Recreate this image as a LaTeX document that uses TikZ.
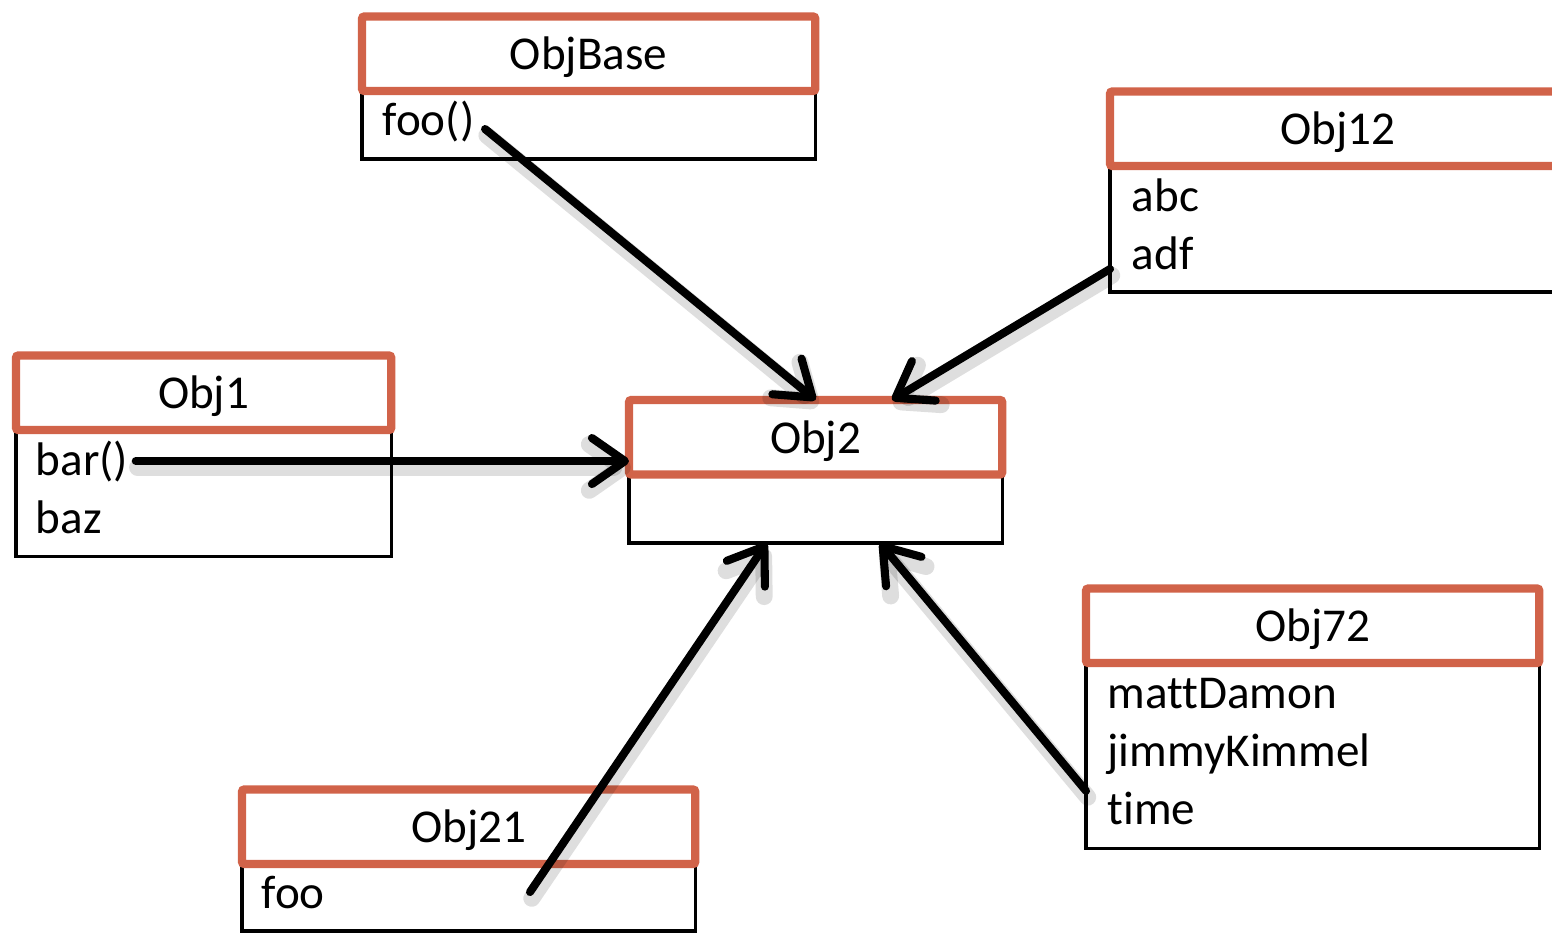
\documentclass[tikz,border=0pt]{standalone}
\usepackage{fontspec}
\setmainfont{Carlito}[RawFeature=-liga, RawFeature=-clig, RawFeature=-calt]
\usetikzlibrary{arrows.meta, positioning, calc}
\definecolor{objred}{RGB}{209,99,73}

\begin{document}
\begin{tikzpicture}[
    x=0.01cm, y=-0.01cm,
    objbody/.style={rectangle, draw, line width=0.9pt, fill=white, outer sep=0pt, anchor=north west, minimum width=4.53cm},
    objhead/.style={rectangle, draw=objred, line width=2.3pt, fill=white, outer sep=0pt, rounded corners=0.6pt, minimum height=0.745cm, minimum width=4.53cm, font=\fontsize{13.4}{16}\selectfont, text height=9pt, text depth=0pt},
    item/.style={anchor=base west, inner sep=0pt, font=\fontsize{13.4}{16}\selectfont},
    linkshadow/.style={draw=black, opacity=0.13, line width=4.8pt, line cap=round, transform canvas={xshift=0.5pt, yshift=-1.8pt}},
    link/.style={-{Straight Barb[length=3.3mm, width=4.6mm, round]}, line width=2.3pt, line cap=round,
        preaction={linkshadow}}
]
\useasboundingbox (0,0) rectangle (1552,933);
\clip (0,0) rectangle (1552,933);

% ObjBase
\node[objbody, minimum height=0.68cm] (basebody) at (362,91) {};
\node[objhead, above=0pt of basebody] (basehead) {ObjBase};
\node[item] (basefoo) at ([shift={(20,44)}]basebody.north west) {foo()};

% Obj12 (runs off the right edge)
\node[objbody, minimum height=1.26cm, minimum width=4.55cm] (obj12body) at (1110,166) {};
\node[objhead, above=0pt of obj12body, minimum width=4.55cm] (obj12head) {Obj12};
\node[item] (obj12abc) at ([shift={(21,45)}]obj12body.north west) {abc};
\node[item] (obj12adf) at ([shift={(21,103)}]obj12body.north west) {adf};

% Obj1
\node[objbody, minimum height=1.26cm, minimum width=3.75cm] (obj1body) at (16,430) {};
\node[objhead, above=0pt of obj1body, minimum width=3.75cm] (obj1head) {Obj1};
\node[item] (obj1bar) at ([shift={(19,45)}]obj1body.north west) {bar()};
\node[item] (obj1baz) at ([shift={(19,103)}]obj1body.north west) {baz};

% Obj2
\node[objbody, minimum height=0.685cm, minimum width=3.73cm] (obj2body) at (629,474.5) {};
\node[objhead, above=0pt of obj2body, minimum width=3.73cm] (obj2head) {Obj2};

% Obj21
\node[objbody, minimum height=0.67cm] (obj21body) at (242,864) {};
\node[objhead, above=0pt of obj21body] (obj21head) {Obj21};
\node[item] (obj21foo) at ([shift={(19,44)}]obj21body.north west) {foo};

% Obj72
\node[objbody, minimum height=1.85cm] (obj72body) at (1086,663) {};
\node[objhead, above=0pt of obj72body] (obj72head) {Obj72};
\node[item] (obj72matt) at ([shift={(21,45)}]obj72body.north west) {mattDamon};
\node[item] (obj72jimmy) at ([shift={(21,103)}]obj72body.north west) {jimmyKimmel};
\node[item] (obj72time) at ([shift={(21,161)}]obj72body.north west) {time};

\coordinate (obj21tail) at (530,892);

% Links into Obj2
\draw[link] ([shift={(10,8)}]basefoo.east) -- (obj2head.north);
\draw[link] (obj12adf.base -| obj12body.west) -- (obj2head.26);
\draw[link] ([xshift=2pt]obj1bar.east) -- (obj1bar.east -| obj2head.west);
\draw[link] (obj21tail) -- (obj2body.215);
\draw[link] (obj72time.north -| obj72body.west) -- (obj2body.-28);

\end{tikzpicture}
\end{document}
